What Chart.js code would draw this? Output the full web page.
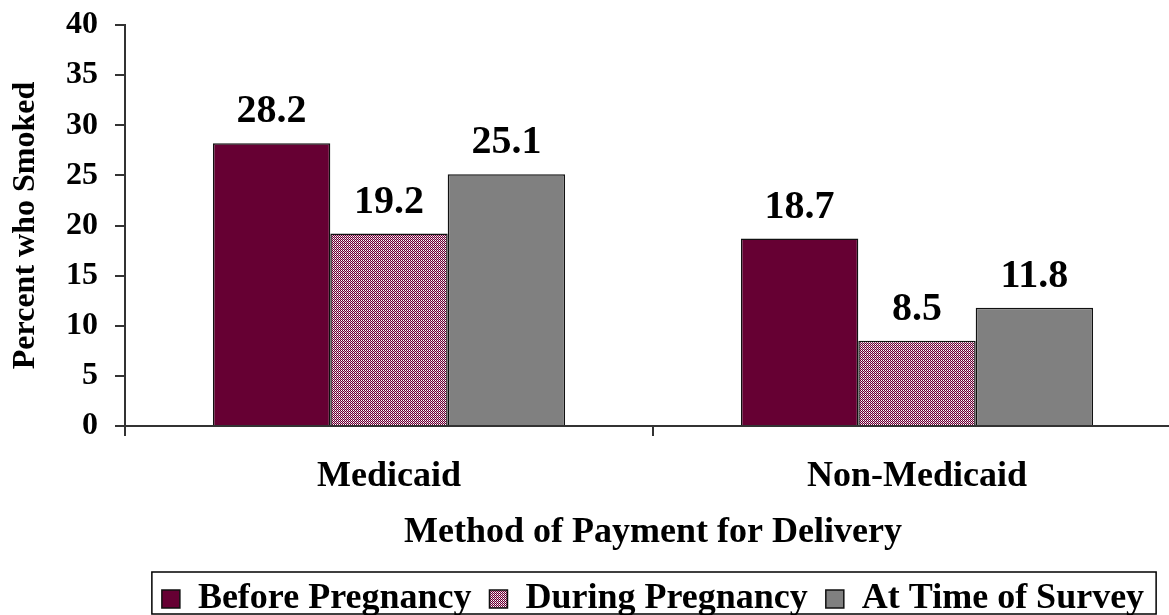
<!DOCTYPE html>
<html>
<head>
<meta charset="utf-8">
<script src="https://cdn.jsdelivr.net/npm/chart.js@4.4.0/dist/chart.umd.min.js"></script>
<style>
  html, body { margin: 0; padding: 0; background: #fff; overflow: hidden; }
  #wrap { width: 1181px; height: 615px; }
</style>
</head>
<body>
<div id="wrap"><canvas id="chart"></canvas></div>
<script>
// data
const categories = ["Medicaid", "Non-Medicaid"];
const seriesNames = ["Before Pregnancy", "During Pregnancy", "At Time of Survey"];
const beforePregnancy = [28.2, 18.7];
const duringPregnancy = [19.2, 8.5];
const atTimeOfSurvey = [25.1, 11.8];
const yMin = 0, yMax = 40, yStep = 5;

const FONT = "'Liberation Serif', 'Times New Roman', serif";

// checkered fill for the middle series
function makePattern() {
  const c = document.createElement("canvas");
  c.width = 2; c.height = 2;
  const g = c.getContext("2d");
  g.fillStyle = "#660033";
  g.fillRect(0, 0, 2, 2);
  g.fillStyle = "#ffffff";
  g.fillRect(1, 0, 1, 1);
  g.fillStyle = "#d9a6c0";
  g.fillRect(0, 1, 1, 1);
  return g.createPattern(c, "repeat");
}

// values above bars
const valueLabels = {
  id: "valueLabels",
  afterDatasetsDraw(chart) {
    const ctx = chart.ctx;
    ctx.save();
    ctx.font = "bold 40px " + FONT;
    ctx.fillStyle = "#000";
    ctx.textAlign = "center";
    ctx.textBaseline = "alphabetic";
    chart.data.datasets.forEach((ds, i) => {
      chart.getDatasetMeta(i).data.forEach((bar, j) => {
        ctx.fillText(ds.data[j].toFixed(1), bar.x, bar.y - 21);
      });
    });
    ctx.restore();
  }
};

// frame round the legend
const legendFrame = {
  id: "legendFrame",
  afterDraw(chart) {
    const boxes = chart.legend.legendHitBoxes;
    if (!boxes || !boxes.length) return;
    const first = boxes[0], last = boxes[boxes.length - 1];
    const ctx = chart.ctx;
    ctx.save();
    ctx.strokeStyle = "#000";
    ctx.lineWidth = 1.5;
    const x0 = first.left - 10;
    const x1 = last.left + last.width + 12;
    const y0 = first.top - 9;
    const y1 = chart.height - 1;
    ctx.strokeRect(x0, y0, x1 - x0, y1 - y0);
    ctx.restore();
  }
};

const ctx = document.getElementById("chart").getContext("2d");
const chart = new Chart(ctx, {
  type: "bar",
  data: {
    labels: categories,
    datasets: [
      { label: seriesNames[0], data: beforePregnancy, backgroundColor: "#660033" },
      { label: seriesNames[1], data: duringPregnancy, backgroundColor: makePattern() },
      { label: seriesNames[2], data: atTimeOfSurvey, backgroundColor: "#808080" }
    ]
  },
  options: {
    responsive: true,
    maintainAspectRatio: false,
    animation: false,
    datasets: {
      bar: {
        categoryPercentage: 0.667,
        barPercentage: 1.0,
        borderColor: "#111",
        borderWidth: 1.5
      }
    },
    layout: { padding: { top: 0, right: 0, left: 0, bottom: -12 } },
    plugins: {
      tooltip: { enabled: false },
      legend: {
        position: "bottom",
        fullSize: false,
        labels: {
          font: { family: FONT, size: 36, weight: "bold" },
          color: "#000",
          boxWidth: 18,
          boxHeight: 18,
          padding: 18
        }
      }
    },
    scales: {
      x: {
        grid: {
          display: true,
          drawOnChartArea: false,
          drawTicks: true,
          tickLength: 10,
          color: "#333",
          lineWidth: 2
        },
        border: { display: true, color: "#333", width: 2 },
        ticks: {
          font: { family: FONT, size: 36, weight: "bold" },
          color: "#000",
          padding: 19
        },
        title: {
          display: true,
          text: "Method of Payment for Delivery",
          font: { family: FONT, size: 36, weight: "bold" },
          color: "#000",
          padding: { top: 0, bottom: 9 }
        },
        afterFit(scale) { scale.height = 137; }
      },
      y: {
        min: yMin,
        max: yMax,
        grid: {
          display: true,
          drawOnChartArea: false,
          drawTicks: true,
          tickLength: 10,
          color: "#333",
          lineWidth: 2
        },
        border: { display: true, color: "#333", width: 2 },
        ticks: {
          stepSize: yStep,
          font: { family: FONT, size: 32, weight: "bold" },
          color: "#000",
          padding: 17
        },
        title: {
          display: true,
          text: "Percent who Smoked",
          font: { family: FONT, size: 32, weight: "bold" },
          color: "#000",
          padding: { top: 7, bottom: 0 }
        },
        afterFit(scale) {
          scale.width = 125;
          scale.paddingTop = 25;
          scale.paddingBottom = 0;
        }
      }
    }
  },
  plugins: [valueLabels, legendFrame]
});
</script>
</body>
</html>
